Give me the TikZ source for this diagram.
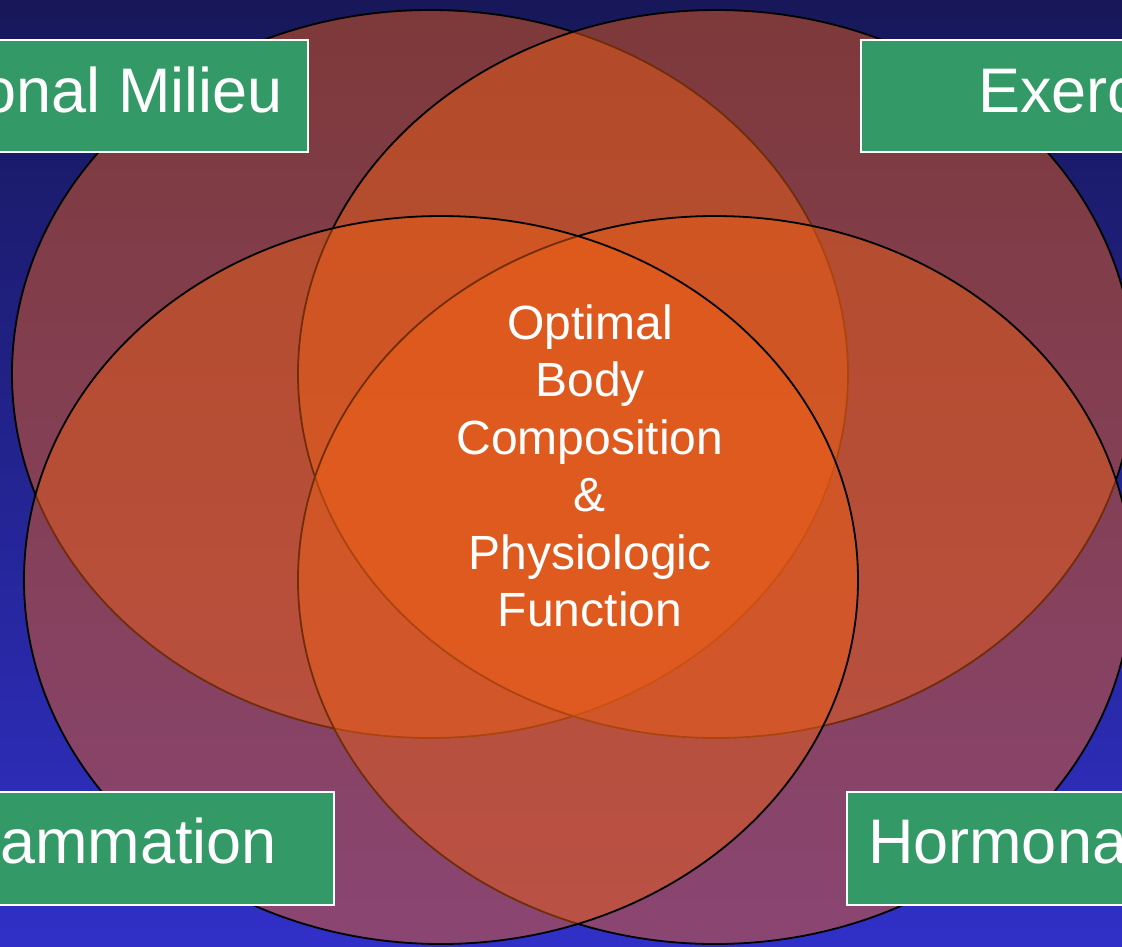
\documentclass[tikz,border=0pt]{standalone}
\usepackage{fontspec}
\setmainfont{Liberation Sans}
\definecolor{bgtop}{RGB}{23,23,90}
\definecolor{bgbot}{RGB}{48,48,200}
\definecolor{vennfill}{RGB}{238,95,22}
\definecolor{boxgreen}{RGB}{51,153,102}
\tikzset{
  venn/.style={fill=vennfill, fill opacity=0.48, draw=black, draw opacity=1, line width=1.8pt},
  label box/.style={fill=boxgreen, draw=white, line width=2pt, text=white,
    font=\fontsize{63}{75}\selectfont, inner ysep=0pt, outer sep=0pt},
  top box/.style={label box, text height=72pt, text depth=40pt},
  bottom box/.style={label box, text height=71pt, text depth=42pt},
  centre text/.style={text=white, font=\fontsize{48}{57.5}\selectfont, align=center, inner sep=0pt}
}
\begin{document}
\begin{tikzpicture}[x=1pt,y=-1pt]
\useasboundingbox (0,0) rectangle (1122,946);
\clip (0,0) rectangle (1122,946);
\shade[top color=bgtop, bottom color=bgbot] (0,0) rectangle (1122,946);
% ellipses (drawing order matters for the outlines)
\path[venn] (430,374) ellipse [x radius=418pt, y radius=364pt];
\path[venn] (716,374) ellipse [x radius=418pt, y radius=364pt];
\path[venn] (715,580) ellipse [x radius=417pt, y radius=364pt];
\path[venn] (441,580) ellipse [x radius=417pt, y radius=364pt];
% label boxes
\node[top box, inner xsep=25pt, anchor=north east] (nutrition) at (308,40) {Nutritional Milieu};
\node[top box, inner xsep=117pt, anchor=north west] (exercise) at (861,40) {Exercise};
\node[bottom box, inner xsep=57pt, anchor=north east] (inflammation) at (334,792) {Inflammation};
\node[bottom box, inner xsep=21pt, anchor=north west] (hormonal) at (847,792) {Hormonal};
% centre
\node[centre text] (goal) at (590,466) {Optimal\\Body\\Composition\\\&\\Physiologic\\Function};
\end{tikzpicture}
\end{document}
